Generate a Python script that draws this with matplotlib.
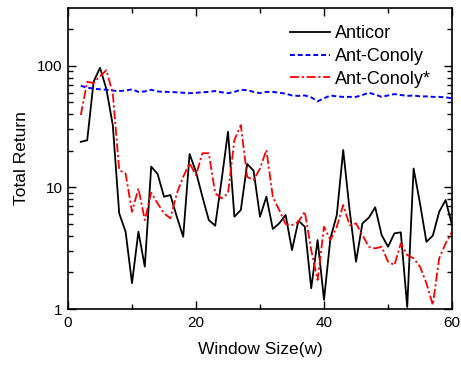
import matplotlib
matplotlib.use("Agg")
import matplotlib.pyplot as plt
from matplotlib.ticker import LogLocator, FixedLocator, NullFormatter, FuncFormatter

plt.rcParams['font.family'] = ['Liberation Sans', 'DejaVu Sans']

window = list(range(2, 61))

anticor = [23.7, 24.4, 73.9, 96.3, 64.3, 32.5, 6.12, 4.32, 1.63, 4.32,
           2.23, 14.8, 12.9, 8.38, 8.65, 5.74, 3.93, 18.8, 13.4, 8.38,
           5.39, 4.84, 11.5, 28.7, 5.74, 6.51, 15.6, 13.7, 5.74, 8.38,
           4.55, 5.06, 5.93, 3.05, 5.32, 4.75, 1.48, 3.69, 1.19, 3.81,
           5.93, 20.3, 6.51, 2.45, 5.06, 5.63, 6.86, 4.06, 3.25, 4.19,
           4.27, 1.04, 14.3, 7.38, 3.57, 4.01, 6.31, 7.87, 4.9]

ant_conoly = [68.5, 66, 65, 64, 63.5, 62.5, 62, 62.5, 64, 61,
              61.5, 63.5, 61.5, 61, 61, 60.5, 60, 59.5, 60, 60.5,
              61, 62, 60.5, 59.5, 61, 63.5, 63, 61, 59.5, 61,
              61, 60, 59, 57, 56.5, 57, 55, 51, 54, 57,
              56, 55.5, 55.5, 55.5, 57.5, 60, 58, 55.5, 57, 58.5,
              57.5, 56.5, 57, 56, 56, 55.5, 55.5, 55, 54]

ant_conoly_star = [39.3, 73.9, 72, 82, 92, 59, 13.9, 13.0, 6.3, 9.8,
                   5.39, 9.04, 7.39, 6.12, 5.57, 8.93, 12.2, 15.8, 12.6, 19.1,
                   19.1, 8.93, 8.13, 8.93, 24.5, 32.5, 12.2, 11.5, 14.3, 20.3,
                   8.38, 6.51, 5.0, 4.9, 5.22, 6.31, 3.05, 1.73, 4.75, 3.69,
                   4.75, 7.16, 4.9, 5.06, 4.06, 3.25, 3.15, 3.25, 2.45, 2.3,
                   3.46, 2.78, 2.61, 2.23, 1.63, 1.08, 2.61, 3.46, 4.32]

x_ticks = [0, 20, 40, 60]
y_ticks = [1, 10, 100]

fig = plt.figure(figsize=(4.61, 3.68), dpi=100)
ax = fig.add_axes([0.1475, 0.1603, 0.833, 0.8177])

ax.plot(window, anticor, color='black', lw=1.3, ls='-', label='Anticor')
ax.plot(window, ant_conoly, color='#0000ff', lw=1.4, ls=(0, (2.5, 1.5)), label='Ant-Conoly')
ax.plot(window, ant_conoly_star, color='#ff0000', lw=1.3, ls=(0, (5, 1.5, 1.2, 1.5)), label='Ant-Conoly*')

ax.set_yscale('log')
ax.set_xlim(0, 60)
ax.set_ylim(1, 298)
ax.xaxis.set_major_locator(FixedLocator(x_ticks))
ax.xaxis.set_minor_locator(FixedLocator([10, 30, 50]))
ax.yaxis.set_major_locator(FixedLocator(y_ticks))
ax.yaxis.set_major_formatter(FuncFormatter(lambda v, p: '%d' % v))
ax.yaxis.set_minor_locator(LogLocator(base=10, subs=range(2, 10)))
ax.yaxis.set_minor_formatter(NullFormatter())

ax.tick_params(which='both', direction='in', top=True, right=True, labelsize=11, width=1)
ax.tick_params(which='major', length=6)
ax.tick_params(axis='x', which='major', pad=5)
ax.tick_params(axis='y', which='major', pad=4)
ax.tick_params(which='minor', length=3.5)
for s in ax.spines.values():
    s.set_linewidth(1.2)

ax.set_xlabel('Window Size(w)', fontsize=12.5, labelpad=9)
ax.set_ylabel('Total Return', fontsize=12.5, labelpad=6)

ax.legend(loc='upper right', frameon=False, fontsize=13, handlelength=2.2,
          handletextpad=0.3, labelspacing=0.32, borderaxespad=0.3,
          bbox_to_anchor=(0.978, 0.985))

fig.savefig('out.png', dpi=100)
